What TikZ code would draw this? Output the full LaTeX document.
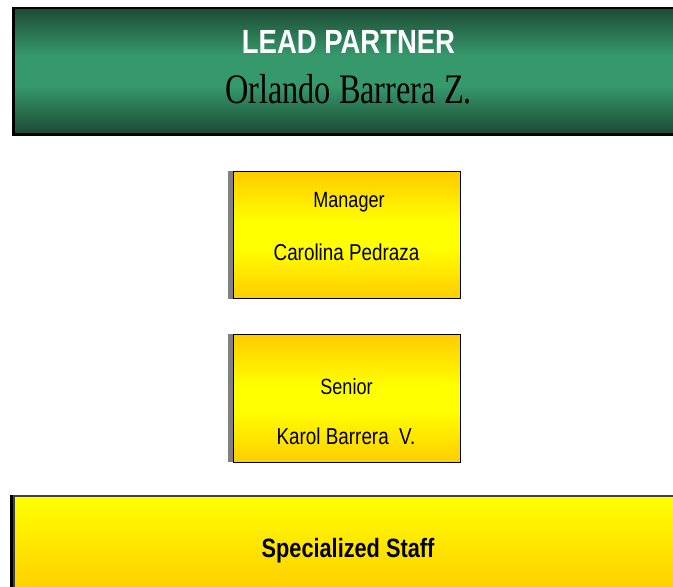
\documentclass[tikz,border=0pt]{standalone}
\usepackage{fontspec}
\newfontfamily\narrowsans{Liberation Sans}[FakeStretch=0.82]
\newfontfamily\narrowserif{Liberation Serif}[FakeStretch=0.77]
\definecolor{gdark}{HTML}{1C4A33}
\definecolor{gmid}{HTML}{36996C}
\definecolor{yorange}{HTML}{FFCC00}
\definecolor{ybright}{HTML}{FFFF00}
\pgfdeclareverticalshading{greenband}{100bp}{color(0bp)=(gdark); color(25bp)=(gdark); color(44bp)=(gmid); color(56bp)=(gmid); color(75bp)=(gdark); color(100bp)=(gdark)}
\pgfdeclareverticalshading{goldband}{100bp}{color(0bp)=(yorange); color(25bp)=(yorange); color(45bp)=(ybright); color(55bp)=(ybright); color(75bp)=(yorange); color(100bp)=(yorange)}
\begin{document}
\begin{tikzpicture}[x=1pt,y=-1pt,
  greenbox/.style={draw=black,line width=1.5pt,shading=greenband,inner sep=0pt,anchor=north west},
  goldbox/.style={draw=black,line width=1.2pt,shading=goldband,inner sep=0pt,anchor=north west,minimum width=227pt,minimum height=127pt},
  staffbox/.style={draw=black!75,line width=1.5pt,top color=ybright,bottom color=yorange,inner sep=0pt,anchor=north west},
  shadowbox/.style={fill=black!50,draw=none,inner sep=0pt,anchor=north west,minimum width=227pt,minimum height=128pt},
  lbl/.style={anchor=base,inner sep=0pt}]
\useasboundingbox (0,0) rectangle (673,587);
% lead partner
\node[fill=black,inner sep=0pt,anchor=north west,minimum width=668pt,minimum height=129pt] (leadsh) at (12,7) {};
\node[greenbox,minimum width=668pt,minimum height=126pt] (lead) at (13,7) {};
% manager
\node[shadowbox] (mansh) at (228,171) {};
\node[goldbox] (man) at (233,171) {};
% senior
\node[shadowbox] (sensh) at (228,334) {};
\node[goldbox,minimum height=128pt] (sen) at (233,334) {};
% staff
\node[fill=black,inner sep=0pt,anchor=north west,minimum width=670pt,minimum height=100pt] (staffsh) at (10,495) {};
\node[staffbox,minimum width=668pt,minimum height=100pt] (staff) at (13,495) {};
% texts
\node[lbl,text=white] (t1) at (348.5,53) {\narrowsans\bfseries\fontsize{33.5}{36}\selectfont LEAD PARTNER};
\node[lbl] (t2) at (348.5,103) {\narrowserif\fontsize{42}{46}\selectfont Orlando Barrera Z.};
\node[lbl] (t3) at (349,207) {\narrowsans\fontsize{22}{24}\selectfont Manager};
\node[lbl] (t4) at (346.5,260) {\narrowsans\fontsize{23}{25}\selectfont Carolina Pedraza};
\node[lbl] (t5) at (346.5,394) {\narrowsans\fontsize{22}{24}\selectfont Senior};
\node[lbl] (t6) at (346,444) {\narrowsans\fontsize{23}{25}\selectfont Karol Barrera\ \ V.};
\node[lbl] (t7) at (348,557) {\narrowsans\bfseries\fontsize{26.5}{28}\selectfont Specialized Staff};
\end{tikzpicture}
\end{document}
